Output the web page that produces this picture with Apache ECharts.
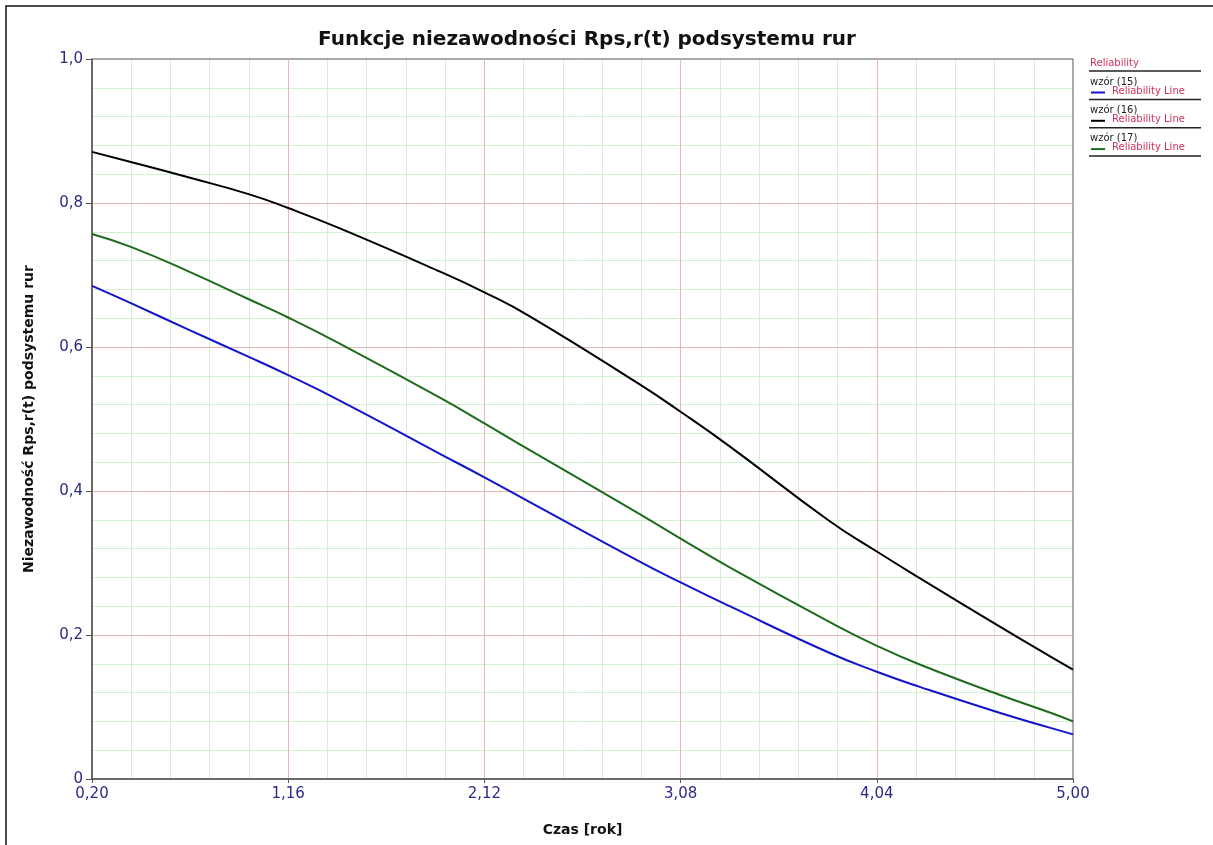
<!DOCTYPE html>
<html>
<head>
<meta charset="utf-8">
<title>Funkcje niezawodności</title>
<script src="https://cdn.jsdelivr.net/npm/echarts@6/dist/echarts.min.js"></script>
<style>
  html, body { margin: 0; padding: 0; background: #fff; }
  #chart { width: 1213px; height: 845px; }
</style>
</head>
<body>
<div id="chart"></div>
<script>
// czas [rok]
const times = [0.20, 0.39, 0.68, 0.97, 1.16, 1.41, 1.90, 2.12, 2.34, 2.88, 3.08, 3.32, 3.81, 4.04, 4.25, 4.64, 4.89, 5.00];

const wzor15 = [0.685, 0.661, 0.623, 0.586, 0.561, 0.526, 0.452, 0.419, 0.385, 0.302, 0.273, 0.240, 0.175, 0.149, 0.128, 0.092, 0.071, 0.062];
const wzor16 = [0.871, 0.857, 0.835, 0.812, 0.793, 0.765, 0.705, 0.676, 0.643, 0.548, 0.510, 0.462, 0.358, 0.316, 0.279, 0.212, 0.170, 0.152];
const wzor17 = [0.757, 0.739, 0.704, 0.666, 0.641, 0.605, 0.530, 0.494, 0.457, 0.368, 0.334, 0.294, 0.218, 0.185, 0.159, 0.117, 0.092, 0.080];

const seriesNames = ['wzór (15)', 'wzór (16)', 'wzór (17)'];
const seriesColors = ['#1414c8', '#000000', '#1d6b1d'];
const seriesValues = [wzor15, wzor16, wzor17];

const font = 'DejaVu Sans';
const labelColor = '#2b2b86';
const legendRed = '#d0325a';
const majorGrid = '#ecb6b6';
const minorGrid = '#d4efd4';

const chart = echarts.init(document.getElementById('chart'));

function pairs(values) {
  return times.map((t, i) => [t, values[i]]);
}

// legenda po prawej stronie
const legendEls = [
  { type: 'text', left: 1090, top: 58, style: { text: 'Reliability', fill: legendRed, font: '10px ' + font } },
  { type: 'line', shape: { x1: 1089, y1: 71, x2: 1201, y2: 71 }, style: { stroke: '#222', lineWidth: 1.5 } }
];
seriesNames.forEach((name, i) => {
  const y0 = 77 + i * 28.3;
  legendEls.push(
    { type: 'text', left: 1090, top: y0, style: { text: name, fill: '#222', font: '10px ' + font } },
    { type: 'line', shape: { x1: 1091, y1: y0 + 15.5, x2: 1105, y2: y0 + 15.5 }, style: { stroke: seriesColors[i], lineWidth: 2 } },
    { type: 'text', left: 1112, top: y0 + 9, style: { text: 'Reliability Line', fill: legendRed, font: '10px ' + font } },
    { type: 'line', shape: { x1: 1089, y1: y0 + 22.5, x2: 1201, y2: y0 + 22.5 }, style: { stroke: '#222', lineWidth: 1.5 } }
  );
});

// oś pomocnicza: drobna siatka pod główną siatką
function minorAxis(min, max, interval, position) {
  return {
    type: 'value', min: min, max: max, interval: interval, position: position, z: -1,
    axisLine: { show: false }, axisTick: { show: false }, axisLabel: { show: false },
    axisPointer: { show: false },
    splitLine: { show: false },
    splitArea: { show: false },
    minorTick: { show: false, splitNumber: 5 },
    minorSplitLine: { show: true, lineStyle: { color: minorGrid, width: 1 } }
  };
}

chart.setOption({
  animation: false,
  backgroundColor: '#fff',
  textStyle: { fontFamily: font },
  title: {
    text: 'Funkcje niezawodności Rps,r(t) podsystemu rur',
    left: 582,
    textAlign: 'center',
    top: 25,
    textStyle: { fontFamily: font, fontWeight: 'bold', fontSize: 20, color: '#111' }
  },
  grid: {
    left: 92,
    top: 59,
    right: 140,
    bottom: 66,
    show: true,
    borderColor: '#555',
    borderWidth: 1,
    backgroundColor: 'transparent'
  },
  xAxis: [minorAxis(0.2, 5, 0.96, 'bottom'), {
    type: 'value',
    min: 0.2,
    max: 5,
    interval: 0.96,
    position: 'bottom',
    z: 1,
    name: 'Czas [rok]',
    nameLocation: 'middle',
    nameGap: 44,
    nameTextStyle: { fontFamily: font, fontWeight: 'bold', fontSize: 14, color: '#111' },
    axisLine: { show: true, onZero: false, lineStyle: { color: '#555', width: 1.5 } },
    axisTick: { show: true, length: 4, lineStyle: { color: '#555' } },
    axisLabel: {
      color: labelColor,
      fontSize: 15,
      margin: 8,
      formatter: v => v.toFixed(2).replace('.', ',')
    },
    splitLine: { show: true, showMinLine: false, showMaxLine: false, lineStyle: { color: majorGrid, width: 1, type: 'solid', opacity: 1 } },
    splitArea: { show: false }
  }],
  yAxis: [minorAxis(0, 1, 0.2, 'left'), {
    type: 'value',
    min: 0,
    max: 1,
    interval: 0.2,
    position: 'left',
    z: 1,
    name: 'Niezawodność Rps,r(t) podsystemu rur',
    nameLocation: 'middle',
    nameGap: 56,
    nameTextStyle: { fontFamily: font, fontWeight: 'bold', fontSize: 14, color: '#111' },
    axisLine: { show: true, onZero: false, lineStyle: { color: '#555', width: 1.5 } },
    axisTick: { show: true, length: 6, lineStyle: { color: '#555' } },
    axisLabel: {
      color: labelColor,
      fontSize: 15,
      margin: 9,
      formatter: v => (v === 0 ? '0' : v.toFixed(1).replace('.', ','))
    },
    splitLine: { show: true, showMinLine: false, showMaxLine: false, lineStyle: { color: [majorGrid], width: 1, type: 'solid', opacity: 1 } },
    splitArea: { show: false }
  }],
  series: seriesNames.map((name, i) => ({
    name: name,
    type: 'line',
    xAxisIndex: 1,
    yAxisIndex: 1,
    z: 5,
    data: pairs(seriesValues[i]),
    smooth: 0.5,
    showSymbol: false,
    lineStyle: { color: seriesColors[i], width: 2 },
    itemStyle: { color: seriesColors[i] }
  })),
  graphic: [
    { type: 'rect', shape: { x: 6, y: 6, width: 1300, height: 900 }, style: { fill: 'none', stroke: '#111', lineWidth: 1.5 }, silent: true }
  ].concat(legendEls)
});
</script>
</body>
</html>
